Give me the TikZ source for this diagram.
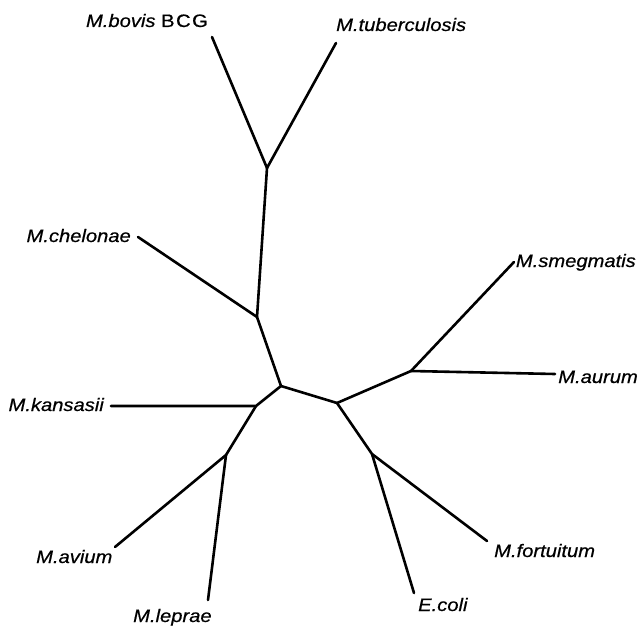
\documentclass[tikz,border=0pt]{standalone}
\usepackage{fontspec}
\setmainfont{Liberation Sans}[FakeStretch=1.12,FakeBold=0.6]
\begin{document}
\begin{tikzpicture}[x=1pt,y=-1pt,
  branch/.style={line width=2.6pt,line cap=round,line join=round},
  taxon/.style={inner sep=0pt,font=\fontsize{18}{20}\selectfont\itshape}]
\useasboundingbox (0,0) rectangle (640,626);
% internal nodes
\coordinate (U) at (267,168);
\coordinate (C) at (257,317);
\coordinate (A) at (281,386);
\coordinate (K) at (256,406);
\coordinate (L) at (226,455);
\coordinate (B) at (337,403);
\coordinate (S) at (411,371);
\coordinate (F) at (372,454);
% leaf ends
\coordinate (bovis) at (212,37);
\coordinate (tub) at (336,43);
\coordinate (chel) at (138,237);
\coordinate (smeg) at (514,262);
\coordinate (kans) at (111,406);
\coordinate (avium) at (115,547);
\coordinate (leprae) at (208,600);
\coordinate (aurum) at (555,374);
\coordinate (fort) at (487,541);
\coordinate (ecoli) at (414,593);
% branches
\draw[branch] (bovis) -- (U) -- (tub);
\draw[branch] (U) -- (C) -- (chel);
\draw[branch] (C) -- (A) -- (B);
\draw[branch] (A) -- (K) -- (kans);
\draw[branch] (K) -- (L) -- (avium);
\draw[branch] (L) -- (leprae);
\draw[branch] (B) -- (S) -- (smeg);
\draw[branch] (S) -- (aurum);
\draw[branch] (B) -- (F) -- (fort);
\draw[branch] (F) -- (ecoli);
% labels
\node[taxon,anchor=base east] (lbovis) at (208,27) {M.bovis\ \upshape B\kern1.5pt C\kern1.5pt G};
\node[taxon,anchor=base west] (ltub) at (336,31) {M.tuberculosis};
\node[taxon,anchor=base east] (lchel) at (131,242) {M.chelonae};
\node[taxon,anchor=base east] (lsmeg) at (636,267) {M.smegmatis};
\node[taxon,anchor=base east] (laurum) at (638,383) {M.aurum};
\node[taxon,anchor=base east] (lkans) at (104,411) {M.kansasii};
\node[taxon,anchor=base west] (lavium) at (36,563) {M.avium};
\node[taxon,anchor=base west] (lleprae) at (133,622) {M.leprae};
\node[taxon,anchor=base west] (lfort) at (494,557) {M.fortuitum};
\node[taxon,anchor=base west] (lecoli) at (418,611) {E.coli};
\end{tikzpicture}
\end{document}
